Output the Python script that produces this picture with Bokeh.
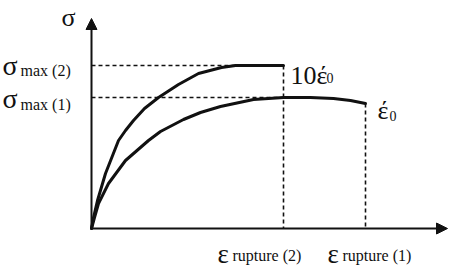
from bokeh.plotting import figure
from bokeh.models import Range1d, Arrow, NormalHead
from bokeh.embed import file_html
from bokeh.resources import INLINE
from bokeh.core.properties import value

# Strain / stress curves (arbitrary units)
eps_2 = [0, 2, 6, 14, 27, 34, 42, 53, 67, 87, 107, 130, 144, 192]
sig_2 = [0, 11, 28, 55, 88, 98, 108, 120, 131, 144, 155, 161, 163, 163]
eps_1 = [0, 3, 7, 17, 34, 57, 69, 92, 109, 129, 162, 192, 219, 242, 259, 274]
sig_1 = [0, 11, 25, 45, 68, 88, 97, 109, 116, 122, 129, 131, 131, 130, 128, 125]

rate_labels = ["10έ", "έ"]
FONT = value("Liberation Serif")
INK = "#111111"

eps_r2 = eps_2[-1]
eps_r1 = eps_1[-1]
smax2 = max(sig_2)
smax1 = max(sig_1)
eps_peak1 = eps_1[sig_1.index(smax1)]

p = figure(width=452, height=270, output_backend="svg", toolbar_location=None,
           x_range=Range1d(-91, 361), y_range=Range1d(-42, 228), min_border=0)
p.axis.visible = False
p.grid.visible = False
p.outline_line_color = None
p.background_fill_color = "white"

# axes with arrows
p.add_layout(Arrow(x_start=0, y_start=0, x_end=0, y_end=210, line_width=2, line_color=INK,
                   end=NormalHead(size=11, fill_color=INK, line_color=INK)))
p.add_layout(Arrow(x_start=0, y_start=0, x_end=356, y_end=0, line_width=2, line_color=INK,
                   end=NormalHead(size=11, fill_color=INK, line_color=INK)))

# dashed guides
p.segment(x0=[0, 0], y0=[smax2, smax1], x1=[eps_r2, eps_peak1], y1=[smax2, smax1],
          line_color=INK, line_width=1.6, line_dash="4 3")
p.segment(x0=[eps_r2, eps_r1], y0=[sig_2[-1], sig_1[-1]], x1=[eps_r2, eps_r1], y1=[0, 0],
          line_color=INK, line_width=1.6, line_dash="4 3")

# curves
p.line(eps_2, sig_2, line_color=INK, line_width=3, line_join="round", line_cap="round")
p.line(eps_1, sig_1, line_color=INK, line_width=3, line_join="round", line_cap="round")

def txt(x, y, s, size):
    p.text(x=[x], y=[y], text=[s], text_font=FONT, text_font_size=f"{size}px",
           text_color=INK, text_align="left", text_baseline="alphabetic")

# axis title
txt(-30, 211, "σ", 26)
# stress labels
txt(-89, smax2, "σ", 28)
txt(-71, smax2 - 5, "max (2)", 16)
txt(-89, smax1 - 1, "σ", 28)
txt(-71, smax1 - 7, "max (1)", 16)
# strain labels
txt(eps_r2 - 66, -25, "ε", 27)
txt(eps_r2 - 51, -27, "rupture (2)", 16)
txt(eps_r1 - 38, -25, "ε", 27)
txt(eps_r1 - 23, -27, "rupture (1)", 16)
# rate labels
txt(eps_r2 + 7, sig_2[-1] - 10, rate_labels[0], 26)
txt(eps_r2 + 43, sig_2[-1] - 12, "0", 14)
txt(eps_r1 + 12, sig_1[-1] - 7, rate_labels[1], 26)
txt(eps_r1 + 24, sig_1[-1] - 12, "0", 14)

open("out.html", "w").write(file_html(p, INLINE))
